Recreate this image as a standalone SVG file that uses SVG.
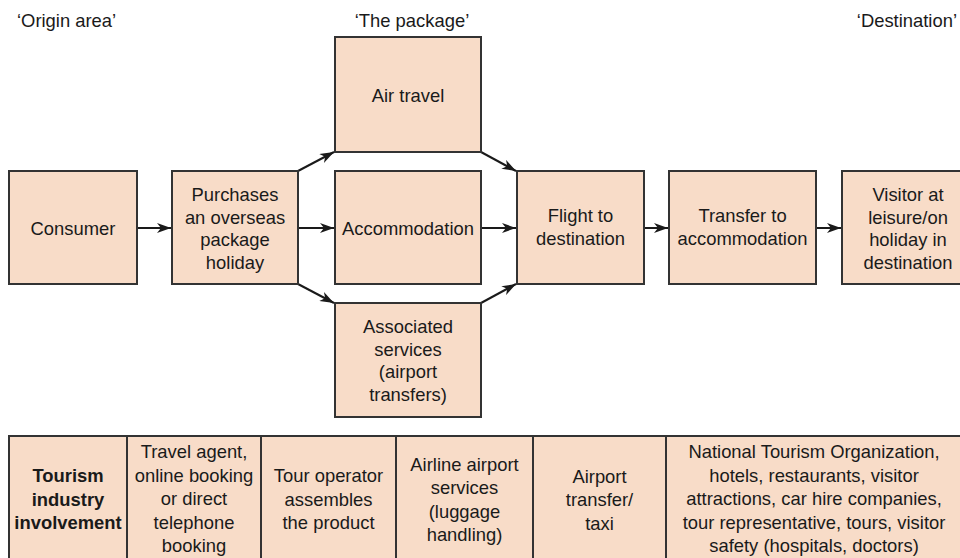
<svg xmlns="http://www.w3.org/2000/svg" width="960" height="558" viewBox="0 0 960 558">
  <defs>
    <marker id="arrow" viewBox="0 0 14 10" refX="14" refY="5" markerWidth="14" markerHeight="10" markerUnits="userSpaceOnUse" orient="auto">
      <path d="M0,0 L14,5 L0,10 L4,5 z" fill="#1a1a1a"/>
    </marker>
    <style>
      .box { fill: #f8dcc8; stroke: #333; stroke-width: 2; }
      .cell { fill: #f8dcc8; stroke: #333; stroke-width: 2; }
      .div { stroke: #333; stroke-width: 2; }
      .t { font-family: "Liberation Sans", Arial, sans-serif; font-size: 18.4px; fill: #1a1a1a; text-anchor: middle; }
      .b { font-weight: bold; }
      .hdr { font-family: "Liberation Sans", Arial, sans-serif; font-size: 18.4px; fill: #1a1a1a; }
      .conn { stroke: #1a1a1a; stroke-width: 2; fill: none; marker-end: url(#arrow); }
    </style>
  </defs>
  <rect width="960" height="558" fill="#ffffff"/>

  <!-- area headings -->
  <text class="hdr" x="17" y="26.5">‘Origin area’</text>
  <text class="hdr" x="412" y="26.5" text-anchor="middle">‘The package’</text>
  <text class="hdr" x="957" y="26.5" text-anchor="end">‘Destination’</text>

  <!-- connectors -->
  <g id="connectors">
    <line class="conn" x1="137" y1="228" x2="171" y2="228"/>
    <line class="conn" x1="298" y1="228" x2="334" y2="228"/>
    <line class="conn" x1="298" y1="171" x2="334" y2="152"/>
    <line class="conn" x1="298" y1="284" x2="334" y2="303"/>
    <line class="conn" x1="481" y1="228" x2="516" y2="228"/>
    <line class="conn" x1="481" y1="152" x2="516" y2="171"/>
    <line class="conn" x1="481" y1="303" x2="516" y2="284"/>
    <line class="conn" x1="644" y1="228" x2="668" y2="228"/>
    <line class="conn" x1="816" y1="228" x2="841" y2="228"/>
  </g>

  <!-- flow nodes -->
  <g id="consumer">
    <rect class="box" x="9" y="171" width="128" height="113"/>
    <text class="t" x="73" y="234.5">Consumer</text>
  </g>
  <g id="purchase">
    <rect class="box" x="172" y="171" width="126" height="113"/>
    <text class="t" x="235" y="201">Purchases</text>
    <text class="t" x="235" y="223.5">an overseas</text>
    <text class="t" x="235" y="246">package</text>
    <text class="t" x="235" y="268.5">holiday</text>
  </g>
  <g id="air-travel">
    <rect class="box" x="335" y="37" width="146" height="115"/>
    <text class="t" x="408" y="102">Air travel</text>
  </g>
  <g id="accommodation">
    <rect class="box" x="335" y="171" width="146" height="113"/>
    <text class="t" x="408" y="234.5">Accommodation</text>
  </g>
  <g id="services">
    <rect class="box" x="335" y="303" width="146" height="114"/>
    <text class="t" x="408" y="333">Associated</text>
    <text class="t" x="408" y="355.5">services</text>
    <text class="t" x="408" y="378">(airport</text>
    <text class="t" x="408" y="400.5">transfers)</text>
  </g>
  <g id="flight">
    <rect class="box" x="517" y="171" width="127" height="113"/>
    <text class="t" x="580.5" y="222">Flight to</text>
    <text class="t" x="580.5" y="244.5">destination</text>
  </g>
  <g id="transfer">
    <rect class="box" x="669" y="171" width="147" height="113"/>
    <text class="t" x="742.5" y="222">Transfer to</text>
    <text class="t" x="742.5" y="244.5">accommodation</text>
  </g>
  <g id="visitor">
    <rect class="box" x="842" y="171" width="133" height="113"/>
    <text class="t" x="908" y="201">Visitor at</text>
    <text class="t" x="908" y="223.5">leisure/on</text>
    <text class="t" x="908" y="246">holiday in</text>
    <text class="t" x="908" y="268.5">destination</text>
  </g>

  <!-- industry involvement table -->
  <g id="involvement-table">
    <rect class="cell" x="9" y="436" width="970" height="140"/>
    <line class="div" x1="127" y1="436" x2="127" y2="560"/>
    <line class="div" x1="261" y1="436" x2="261" y2="560"/>
    <line class="div" x1="396" y1="436" x2="396" y2="560"/>
    <line class="div" x1="533" y1="436" x2="533" y2="560"/>
    <line class="div" x1="666" y1="436" x2="666" y2="560"/>

    <text class="t b" x="68" y="482">Tourism</text>
    <text class="t b" x="68" y="505.5">industry</text>
    <text class="t b" x="68" y="529">involvement</text>

    <text class="t" x="194" y="458">Travel agent,</text>
    <text class="t" x="194" y="481.5">online booking</text>
    <text class="t" x="194" y="505">or direct</text>
    <text class="t" x="194" y="528.5">telephone</text>
    <text class="t" x="194" y="552">booking</text>

    <text class="t" x="328.5" y="482">Tour operator</text>
    <text class="t" x="328.5" y="505.5">assembles</text>
    <text class="t" x="328.5" y="529">the product</text>

    <text class="t" x="464.5" y="470.5">Airline airport</text>
    <text class="t" x="464.5" y="494">services</text>
    <text class="t" x="464.5" y="517.5">(luggage</text>
    <text class="t" x="464.5" y="541">handling)</text>

    <text class="t" x="599.5" y="482.5">Airport</text>
    <text class="t" x="599.5" y="506">transfer/</text>
    <text class="t" x="599.5" y="529.5">taxi</text>

    <text class="t" x="814" y="458">National Tourism Organization,</text>
    <text class="t" x="814" y="481.5">hotels, restaurants, visitor</text>
    <text class="t" x="814" y="505">attractions, car hire companies,</text>
    <text class="t" x="814" y="528.5">tour representative, tours, visitor</text>
    <text class="t" x="814" y="552">safety (hospitals, doctors)</text>
  </g>
</svg>
